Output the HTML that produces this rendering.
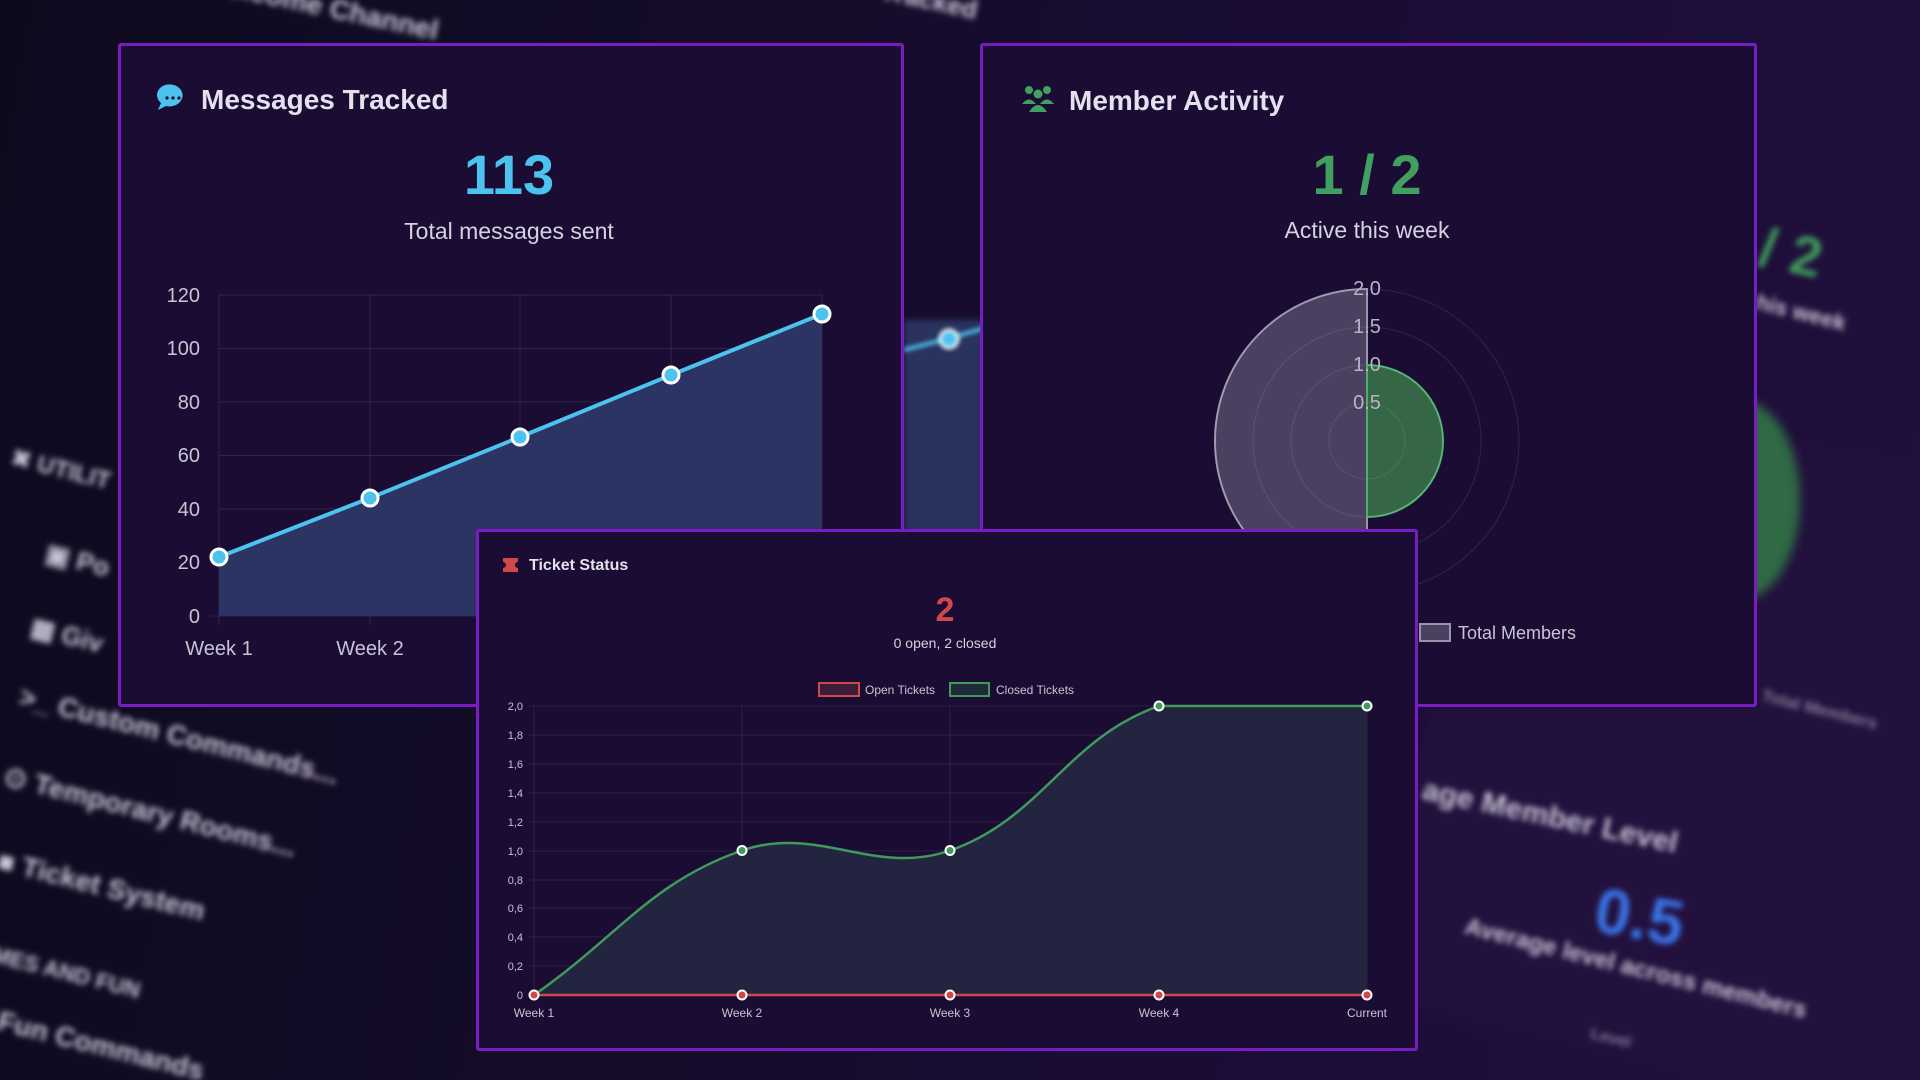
<!DOCTYPE html>
<html><head><meta charset="utf-8"><style>
html,body{margin:0;padding:0;width:1920px;height:1080px;overflow:hidden;background:#120a24;font-family:"Liberation Sans",sans-serif;}
#wrap{position:relative;width:1920px;height:1080px;overflow:hidden;}
.abs{position:absolute;}
.card{position:absolute;background:#1b0c33;border:3px solid #7a1cc4;box-sizing:border-box;border-radius:3px;overflow:hidden;}
.bg{position:absolute;filter:blur(3px);color:#c8c4d4;font-weight:bold;white-space:nowrap;}
</style></head><body><div id="wrap">
<div class="abs" style="left:0;top:0;width:1920px;height:1080px;background:linear-gradient(100deg,#0e0a1e 0%,#150c2a 40%,#1c0c38 70%,#21103c 100%);"></div>
<div class="abs" style="left:1430px;top:420px;width:480px;height:640px;background:#22103d;transform:rotate(14deg);filter:blur(6px);"></div>
<div class="abs" style="left:1680px;top:400px;width:120px;height:200px;border-radius:50%;background:#2f6a45;filter:blur(5px);"></div>
<div class="bg" style="left:1760px;top:220px;font-size:56px;color:#3f9a5c;transform:rotate(12deg);">/ 2</div>
<div class="bg" style="left:1755px;top:300px;font-size:22px;transform:rotate(14deg);">his week</div>
<div class="bg" style="left:1760px;top:700px;font-size:17px;transform:rotate(14deg);opacity:.6">Total Members</div>
<div class="bg" style="left:1420px;top:800px;font-size:30px;transform:rotate(12deg);">age Member Level</div>
<div class="bg" style="left:1595px;top:880px;font-size:64px;color:#3a74e8;transform:rotate(10deg);">0.5</div>
<div class="bg" style="left:1460px;top:955px;font-size:24px;transform:rotate(14deg);">Average level across members</div>
<div class="bg" style="left:1590px;top:1030px;font-size:16px;transform:rotate(14deg);opacity:.6">Level</div>
<div class="bg" style="left:200px;top:-10px;font-size:28px;transform:rotate(12deg);">Welcome Channel</div>
<div class="bg" style="left:880px;top:-15px;font-size:26px;transform:rotate(12deg);">Tracked</div>
<div class="bg" style="left:10px;top:455px;font-size:24px;transform:rotate(14deg);">✖ UTILIT</div>
<div class="bg" style="left:45px;top:545px;font-size:26px;transform:rotate(14deg);">▣ Po</div>
<div class="bg" style="left:30px;top:620px;font-size:26px;transform:rotate(14deg);">▦ Giv</div>
<div class="bg" style="left:15px;top:720px;font-size:28px;transform:rotate(14deg);">&gt;_ Custom Commands...</div>
<div class="bg" style="left:0px;top:795px;font-size:28px;transform:rotate(14deg);">⊙ Temporary Rooms...</div>
<div class="bg" style="left:-5px;top:870px;font-size:28px;transform:rotate(14deg);">■ Ticket System</div>
<div class="bg" style="left:-10px;top:960px;font-size:22px;transform:rotate(14deg);">MES AND FUN</div>
<div class="bg" style="left:-5px;top:1030px;font-size:28px;transform:rotate(14deg);">Fun Commands</div>
<div class="abs" style="left:904px;top:320px;width:80px;height:220px;background:#2a3360;filter:blur(3px);"></div>
<svg class="abs" style="left:0;top:0;filter:blur(2px)" width="1920" height="1080"><path d="M904,350 L950,338 L985,328" stroke="#4cc3ee" stroke-width="4" fill="none"/><circle cx="949" cy="339" r="9" fill="#4cc3ee" stroke="#fff" stroke-width="3"/></svg>

<div class="card" style="left:118px;top:43px;width:786px;height:664px;">
<svg width="786" height="664" style="position:absolute;left:-3px;top:-3px">
<g transform="translate(-118,-43)">
<path d="M160,88 a13,11 0 1,1 6,18 l-8,4 l3,-7 a13,11 0 0,1 -1,-15z" fill="#4cc3ee"/>
<circle cx="167" cy="98" r="1.6" fill="#1b0c33"/><circle cx="173" cy="98" r="1.6" fill="#1b0c33"/><circle cx="179" cy="98" r="1.6" fill="#1b0c33"/>
<text x="201" y="109" font-size="28" font-weight="bold" fill="#e4e0ee">Messages Tracked</text>
<text x="509" y="194" font-size="56" font-weight="bold" fill="#4cc3ee" text-anchor="middle">113</text>
<text x="509" y="239" font-size="23" fill="#d6d2e0" text-anchor="middle">Total messages sent</text>
<g stroke="#ffffff" stroke-opacity="0.1" stroke-width="1">
<line x1="219" y1="295" x2="822" y2="295"/><line x1="219" y1="348.5" x2="822" y2="348.5"/><line x1="219" y1="402" x2="822" y2="402"/><line x1="219" y1="455.5" x2="822" y2="455.5"/><line x1="219" y1="509" x2="822" y2="509"/><line x1="219" y1="562.5" x2="822" y2="562.5"/><line x1="210" y1="616" x2="822" y2="616"/>
<line x1="219" y1="295" x2="219" y2="625"/><line x1="370" y1="295" x2="370" y2="625"/><line x1="520" y1="295" x2="520" y2="625"/><line x1="671" y1="295" x2="671" y2="625"/><line x1="822" y1="295" x2="822" y2="625"/>
</g>
<path d="M219,557 L370,498 L520,437 L671,375 L822,314 L822,616 L219,616Z" fill="#2b3462"/>
<path d="M219,557 L370,498 L520,437 L671,375 L822,314" stroke="#4cc3ee" stroke-width="4" fill="none"/>
<g fill="#4cc3ee" stroke="#fff" stroke-width="3"><circle cx="219" cy="557" r="8"/><circle cx="370" cy="498" r="8"/><circle cx="520" cy="437" r="8"/><circle cx="671" cy="375" r="8"/><circle cx="822" cy="314" r="8"/></g>
<g font-size="20" fill="#c8c4d4" text-anchor="end">
<text x="200" y="302">120</text><text x="200" y="355">100</text><text x="200" y="409">80</text><text x="200" y="462">60</text><text x="200" y="516">40</text><text x="200" y="569">20</text><text x="200" y="623">0</text></g>
<g font-size="20" fill="#c8c4d4" text-anchor="middle"><text x="219" y="655">Week 1</text><text x="370" y="655">Week 2</text><text x="520" y="655">Week 3</text><text x="671" y="655">Week 4</text><text x="822" y="655">Current</text></g>
</g></svg></div>

<div class="card" style="left:980px;top:43px;width:777px;height:664px;">
<svg width="777" height="664" style="position:absolute;left:-3px;top:-3px">
<g transform="translate(-980,-43)">
<g fill="#3fa060"><circle cx="1029" cy="90" r="4"/><circle cx="1047" cy="90" r="4"/><circle cx="1038" cy="94" r="4.5"/><path d="M1022,104 q7,-9 14,0z M1040,104 q7,-9 14,0z"/><path d="M1029,112 q9,-14 18,0z"/></g>
<text x="1069" y="110" font-size="28" font-weight="bold" fill="#e4e0ee">Member Activity</text>
<text x="1367" y="194" font-size="56" font-weight="bold" fill="#3fa060" text-anchor="middle">1 / 2</text>
<text x="1367" y="238" font-size="23" fill="#d6d2e0" text-anchor="middle">Active this week</text>
<path d="M1367,289 A152,152 0 0,0 1367,593 Z" fill="#4a4060" stroke="#9a94aa" stroke-width="2"/>
<path d="M1367,365 A76,76 0 0,1 1367,517 Z" fill="#356645" stroke="#4caf6a" stroke-width="2"/>
<g fill="none" stroke="#fff" stroke-opacity="0.1"><circle cx="1367" cy="441" r="38"/><circle cx="1367" cy="441" r="76"/><circle cx="1367" cy="441" r="114"/><circle cx="1367" cy="441" r="152"/></g>
<g font-size="20" fill="#b8b4c4" text-anchor="middle"><text x="1367" y="295">2.0</text><text x="1367" y="333">1.5</text><text x="1367" y="371">1.0</text><text x="1367" y="409">0.5</text></g>
<rect x="1420" y="624" width="30" height="17" fill="#4a4060" stroke="#9a94aa" stroke-width="2"/>
<text x="1458" y="639" font-size="18" fill="#c8c4d4">Total Members</text>
</g></svg></div>

<div class="card" style="left:476px;top:529px;width:942px;height:522px;">
<svg width="942" height="522" style="position:absolute;left:-3px;top:-3px">
<g transform="translate(-476,-529)">
<path d="M503,558 h15 v4 a3,3 0 0,0 0,6 v4 h-15 v-4 a3,3 0 0,0 0,-6z" fill="#d04848"/>
<text x="529" y="570" font-size="16" font-weight="bold" fill="#e4e0ee">Ticket Status</text>
<text x="945" y="621" font-size="34" font-weight="bold" fill="#d04848" text-anchor="middle">2</text>
<text x="945" y="648" font-size="14" fill="#d6d2e0" text-anchor="middle">0 open, 2 closed</text>
<rect x="819" y="683" width="40" height="13" fill="#3a1c3c" stroke="#d04848" stroke-width="2"/>
<text x="865" y="694" font-size="12" fill="#c8c4d4">Open Tickets</text>
<rect x="950" y="683" width="39" height="13" fill="#1f2a3a" stroke="#3f9a5c" stroke-width="2"/>
<text x="996" y="694" font-size="12" fill="#c8c4d4">Closed Tickets</text>
<g stroke="#fff" stroke-opacity="0.08">
<line x1="528" y1="706" x2="1367" y2="706"/><line x1="528" y1="735" x2="1367" y2="735"/><line x1="528" y1="764" x2="1367" y2="764"/><line x1="528" y1="793" x2="1367" y2="793"/><line x1="528" y1="822" x2="1367" y2="822"/><line x1="528" y1="851" x2="1367" y2="851"/><line x1="528" y1="880" x2="1367" y2="880"/><line x1="528" y1="908" x2="1367" y2="908"/><line x1="528" y1="937" x2="1367" y2="937"/><line x1="528" y1="966" x2="1367" y2="966"/><line x1="528" y1="995" x2="1367" y2="995"/>
<line x1="534" y1="706" x2="534" y2="1001"/><line x1="742" y1="706" x2="742" y2="1001"/><line x1="950" y1="706" x2="950" y2="1001"/><line x1="1159" y1="706" x2="1159" y2="1001"/><line x1="1367" y1="706" x2="1367" y2="1001"/>
</g>
<path d="M534,995 C617.2,937.2 650.6,882.2 742,850.5 C817,824.4 874.8,876.6 950,850.5 C1041.6,818.8 1067.4,737.7 1159,706 C1234.2,706 1283.6,706 1367,706 L1367,995 Z" fill="#232440"/>
<path d="M534,995 C617.2,937.2 650.6,882.2 742,850.5 C817,824.4 874.8,876.6 950,850.5 C1041.6,818.8 1067.4,737.7 1159,706 C1234.2,706 1283.6,706 1367,706" fill="none" stroke="#3f9a5c" stroke-width="2.5"/>
<line x1="534" y1="995" x2="1367" y2="995" stroke="#d04848" stroke-width="2.5"/>
<g fill="#3f9a5c" stroke="#fff" stroke-width="2"><circle cx="742" cy="850.5" r="4.5"/><circle cx="950" cy="850.5" r="4.5"/><circle cx="1159" cy="706" r="4.5"/><circle cx="1367" cy="706" r="4.5"/></g>
<g fill="#d04848" stroke="#fff" stroke-width="2"><circle cx="534" cy="995" r="4.5"/><circle cx="742" cy="995" r="4.5"/><circle cx="950" cy="995" r="4.5"/><circle cx="1159" cy="995" r="4.5"/><circle cx="1367" cy="995" r="4.5"/></g>
<g font-size="11" fill="#c8c4d4" text-anchor="end">
<text x="523" y="710">2,0</text><text x="523" y="739">1,8</text><text x="523" y="768">1,6</text><text x="523" y="797">1,4</text><text x="523" y="826">1,2</text><text x="523" y="855">1,0</text><text x="523" y="884">0,8</text><text x="523" y="912">0,6</text><text x="523" y="941">0,4</text><text x="523" y="970">0,2</text><text x="523" y="999">0</text></g>
<g font-size="12" fill="#c8c4d4" text-anchor="middle"><text x="534" y="1017">Week 1</text><text x="742" y="1017">Week 2</text><text x="950" y="1017">Week 3</text><text x="1159" y="1017">Week 4</text><text x="1367" y="1017">Current</text></g>
</g></svg></div>
</div></body></html>
